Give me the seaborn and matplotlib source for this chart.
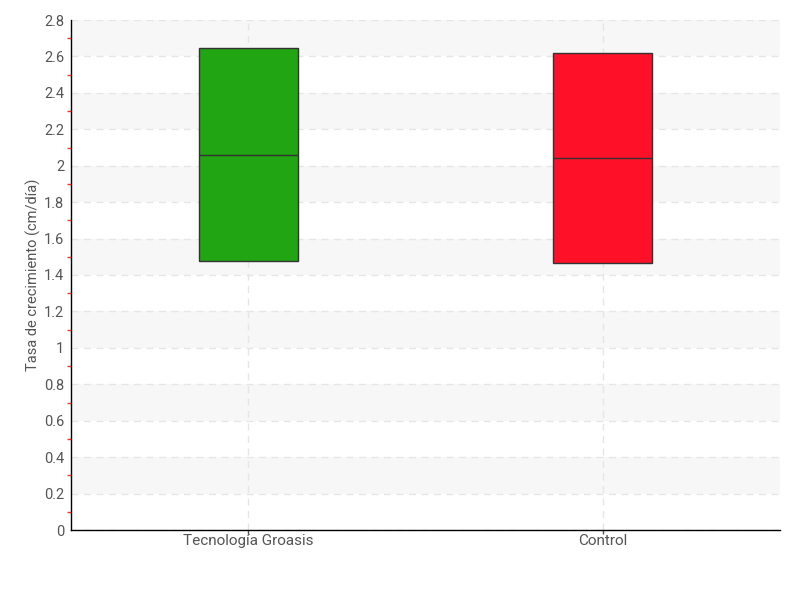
import matplotlib
matplotlib.use("Agg")
import matplotlib.pyplot as plt
import seaborn as sns
import pandas as pd
import numpy as np
from matplotlib.ticker import MultipleLocator, FuncFormatter

groups = ["Tecnología Groasis", "Control"]
q1 = [1.477, 1.466]
median = [2.060, 2.043]
q3 = [2.644, 2.620]
colors = ["#22A512", "#FF1029"]
y_label = "Tasa de crecimiento (cm/día)"

rows = []
for g, a, m, b in zip(groups, q1, median, q3):
    for v in (a, a, m, b, b):
        rows.append({"grupo": g, "valor": v})
df = pd.DataFrame(rows)

sns.set_style("white")
plt.rcParams['font.family'] = ['Roboto', 'DejaVu Sans']

fig = plt.figure(figsize=(8, 6), dpi=100)
ax = fig.add_axes([71/800, 70/600, (780-71)/800, (530-20)/600])

# alternating bands
for lo in np.arange(0.2, 2.8, 0.4):
    ax.axhspan(lo, lo + 0.2, color="#F7F7F7", zorder=0, lw=0)

sns.boxplot(data=df, x="grupo", y="valor", hue="grupo", palette=colors,
            order=groups, hue_order=groups, width=0.28, whis=0,
            showcaps=False, showfliers=False, legend=False, ax=ax,
            linecolor="#333333", linewidth=1, saturation=1, zorder=3)

ax.set_xlim(-0.5, 1.5)
ax.set_ylim(0, 2.8)
ax.yaxis.set_major_locator(MultipleLocator(0.2))
ax.yaxis.set_minor_locator(MultipleLocator(0.1))
ax.yaxis.set_major_formatter(FuncFormatter(lambda v, p: f"{round(v, 1):g}"))

ax.grid(True, which="major", axis="both", linestyle=(0, (5, 4)), color="#E6E6E6", lw=1, zorder=1)
ax.set_axisbelow(True)

for s in ["top", "right"]:
    ax.spines[s].set_visible(False)
ax.spines["left"].set_color("black")
ax.spines["bottom"].set_color("black")
ax.spines["left"].set_linewidth(1)
ax.spines["bottom"].set_linewidth(1)

ax.tick_params(axis="y", which="major", direction="out", length=4, width=1, color="black",
               labelsize=10.5, labelcolor="#555555", pad=1)
ax.tick_params(axis="y", which="minor", direction="out", length=3, width=1, color="#FF3030", left=True)
ax.tick_params(axis="x", which="major", direction="out", length=3, width=1, color="#555555",
               labelsize=11, labelcolor="#555555", pad=0, bottom=True)

ax.set_xlabel("")
ax.set_ylabel(y_label, fontsize=10.5, color="#555555")
ax.yaxis.set_label_coords(-0.042, 0.5)

fig.savefig("out.png", dpi=100)
